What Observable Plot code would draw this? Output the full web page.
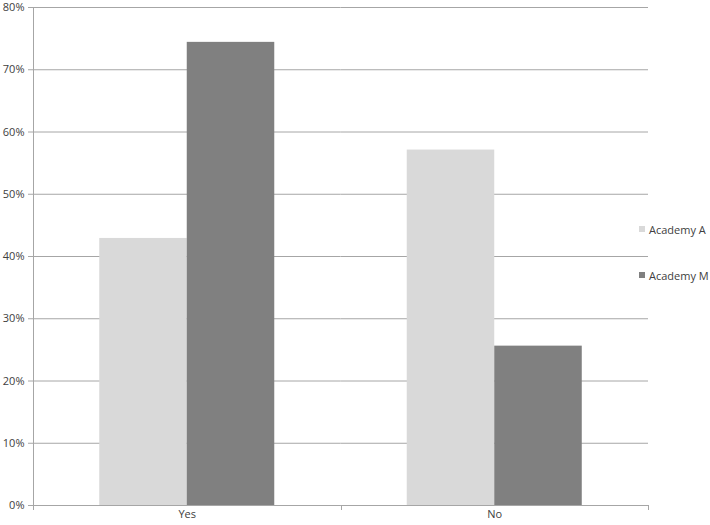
<!DOCTYPE html>
<html>
<head>
<meta charset="utf-8">
<script src="https://cdn.jsdelivr.net/npm/d3@7"></script>
<script src="https://cdn.jsdelivr.net/npm/@observablehq/plot@0.6"></script>
<style>
  html, body { margin: 0; padding: 0; background: #fff; }
  #wrap { position: relative; width: 710px; height: 525px; font-family: "Open Sans", sans-serif; }
  .legend { position: absolute; left: 639px; font-size: 11px; color: #404040; display: flex; align-items: center; white-space: nowrap; }
  .legend span.sw { display: inline-block; width: 6px; height: 6px; margin-right: 4px; }
</style>
</head>
<body>
<div id="wrap"></div>
<script>
const categories = ["Yes", "No"];
const series = ["Academy A", "Academy M"];
const academyA = [42.9, 57.1];
const academyM = [74.4, 25.6];
const yTicks = [0, 10, 20, 30, 40, 50, 60, 70, 80];
const colors = ["#d9d9d9", "#808080"];

const data = categories.flatMap((c, i) => [
  {category: c, academy: series[0], value: academyA[i]},
  {category: c, academy: series[1], value: academyM[i]}
]);

const gridColor = "#a6a6a6";

const chart = Plot.plot({
  width: 710,
  height: 525,
  marginLeft: 33,
  marginRight: 62,
  marginTop: 7,
  marginBottom: 20,
  style: {fontFamily: "Open Sans, sans-serif", fontSize: "11px", color: "#404040", background: "white"},
  fx: {domain: categories, paddingInner: 0, paddingOuter: 0, label: null, round: false, axis: null},
  x: {domain: series, paddingInner: 0, paddingOuter: 0.757, axis: null, round: false},
  y: {domain: [0, 80], label: null},
  color: {domain: series, range: colors},
  marks: [
    Plot.gridY(yTicks, {stroke: gridColor, strokeOpacity: 1, strokeWidth: 1}),
    Plot.barY(data, {fx: "category", x: "academy", y: "value", fill: "academy", inset: 0}),
    Plot.ruleY([0], {stroke: gridColor, strokeWidth: 1}),
    Plot.axisY(yTicks, {tickSize: 5, tickPadding: 4, tickFormat: d => d + "%", label: null, stroke: gridColor, fill: "#404040"}),
    Plot.axisFx({anchor: "bottom", tickSize: 0, tickPadding: 5, label: null, fill: "#404040"})
  ]
});

document.getElementById("wrap").appendChild(chart);

// Excel-style axis line and category boundary ticks, from Plot's scales
const fx = chart.scale("fx");
const y = chart.scale("y");
const y0 = y.apply(0), yTop = y.apply(80);
const svg = d3.select(chart);
const bounds = fx.domain.map(d => fx.apply(d));
bounds.push(fx.apply(fx.domain[fx.domain.length - 1]) + fx.bandwidth);
const g = svg.append("g").attr("stroke", gridColor).attr("stroke-width", 1);
g.append("line").attr("x1", bounds[0] + 0.5).attr("x2", bounds[0] + 0.5).attr("y1", yTop).attr("y2", y0 + 5);
bounds.forEach(b => {
  g.append("line").attr("x1", Math.round(b) + 0.5).attr("x2", Math.round(b) + 0.5).attr("y1", y0).attr("y2", y0 + 5);
});

// legend
const legendTops = [y.apply(44.2), y.apply(36.8)];
series.forEach((s, i) => {
  const d = document.createElement("div");
  d.className = "legend";
  d.style.top = (legendTops[i] - 8) + "px";
  d.innerHTML = `<span class="sw" style="background:${colors[i]}"></span>${s}`;
  document.getElementById("wrap").appendChild(d);
});
</script>
</body>
</html>
